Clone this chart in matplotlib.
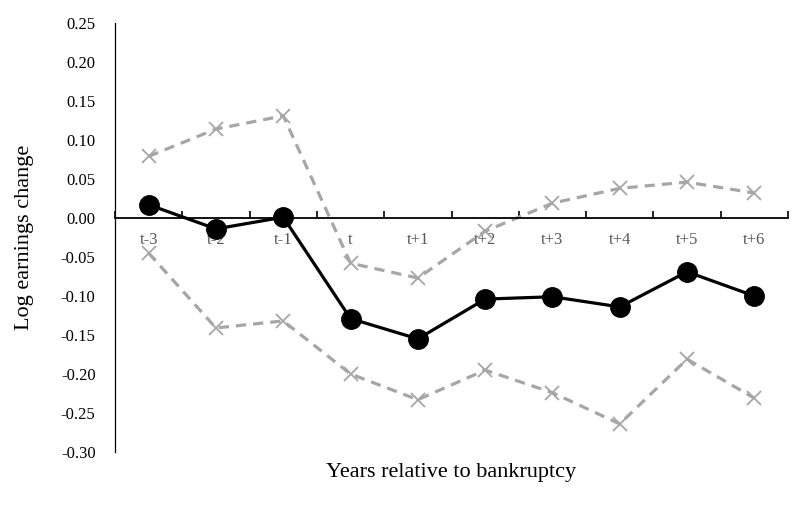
import matplotlib.pyplot as plt
import numpy as np

# data
years = ['t-3', 't-2', 't-1', 't', 't+1', 't+2', 't+3', 't+4', 't+5', 't+6']
estimate = [0.017, -0.014, 0.001, -0.129, -0.155, -0.104, -0.101, -0.114, -0.069, -0.100]
upper_ci = [0.079, 0.114, 0.131, -0.058, -0.077, -0.017, 0.019, 0.038, 0.046, 0.032]
lower_ci = [-0.045, -0.141, -0.132, -0.200, -0.233, -0.195, -0.224, -0.264, -0.181, -0.231]
yticks = [-0.30, -0.25, -0.20, -0.15, -0.10, -0.05, 0.00, 0.05, 0.10, 0.15, 0.20, 0.25]

plt.rcParams['font.family'] = ['Liberation Serif', 'DejaVu Serif']

fig = plt.figure(figsize=(8, 5.05), dpi=100)
ax = fig.add_axes([0.14375, 0.105, 0.84125, 0.8495])

x = np.arange(len(years))

# confidence bands
ax.plot(x, upper_ci, color='#a6a6a6', lw=2.3, ls=(0, (3.2, 2.2)),
        marker='x', ms=10, mew=1.3, zorder=2)
ax.plot(x, lower_ci, color='#a6a6a6', lw=2.3, ls=(0, (3.2, 2.2)),
        marker='x', ms=10, mew=1.3, zorder=2)

# point estimate
ax.plot(x, estimate, color='black', lw=2.3, marker='o', ms=14, zorder=3)

ax.set_xlim(-0.5, len(years) - 0.5)
ax.set_ylim(-0.30, 0.25)
ax.set_yticks(yticks)
ax.set_yticklabels(['%.2f' % v for v in yticks])

ax.spines['top'].set_visible(False)
ax.spines['right'].set_visible(False)
ax.spines['bottom'].set_position(('data', 0))
ax.spines['bottom'].set_linewidth(1.3)
ax.spines['left'].set_linewidth(0.9)

ax.set_xticks(x)
ax.set_xticklabels(years)
ax.set_xticks(np.arange(-0.5, len(years)), minor=True)
ax.tick_params(axis='x', which='major', length=0, pad=10, labelsize=12,
               labelcolor='#595959')
ax.tick_params(axis='x', which='minor', direction='in', length=5, width=1.2)
ax.tick_params(axis='y', length=0, pad=14, labelsize=12)

fig.text(0.564, 0.0653, 'Years relative to bankruptcy', ha='center', va='center',
         fontsize=16)
fig.text(0.031, 0.530, 'Log earnings change', ha='center', va='center',
         rotation=90, fontsize=16)

fig.savefig('out.png', dpi=100)
